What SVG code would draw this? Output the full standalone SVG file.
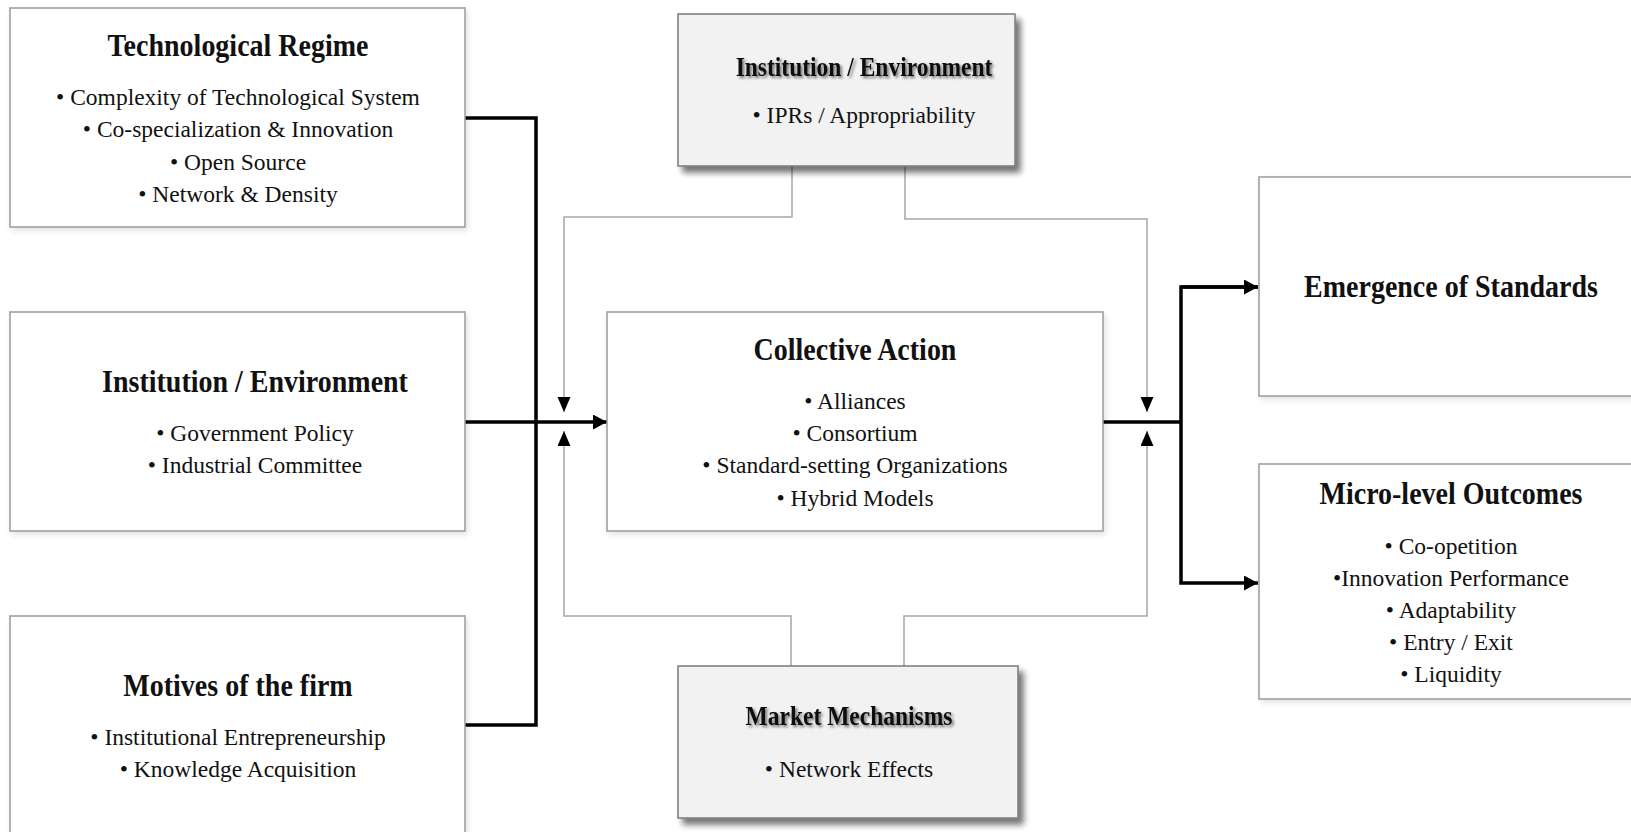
<svg xmlns="http://www.w3.org/2000/svg" width="1631" height="832" viewBox="0 0 1631 832">
  <style>
    .box { fill: #ffffff; stroke: #9a9a9a; stroke-width: 1.5; }
    .gbox { fill: #f2f2f2; stroke: #7a7a7a; stroke-width: 1.5; }
    .title { font-family: "Liberation Serif", "Times New Roman", serif; font-weight: bold; font-size: 28px; fill: #111; text-anchor: middle; }
    .stitle { font-family: "Liberation Serif", "Times New Roman", serif; font-weight: bold; font-size: 23.5px; fill: #111; text-anchor: middle; }
    .item { font-family: "Liberation Serif", "Times New Roman", serif; font-size: 23.5px; fill: #111; text-anchor: middle; }
    .thick { fill: none; stroke: #000; stroke-width: 3.5; stroke-linejoin: miter; }
    .thin { fill: none; stroke: #a6a6a6; stroke-width: 1.5; }
  </style>
  <defs>
    <filter id="softShadow" x="-5%" y="-5%" width="112%" height="115%">
      <feGaussianBlur in="SourceAlpha" stdDeviation="3"/>
      <feOffset dx="2" dy="3" result="b"/>
      <feComponentTransfer><feFuncA type="linear" slope="0.12"/></feComponentTransfer>
      <feMerge><feMergeNode/><feMergeNode in="SourceGraphic"/></feMerge>
    </filter>
    <filter id="boxShadow" x="-5%" y="-5%" width="115%" height="120%">
      <feGaussianBlur in="SourceAlpha" stdDeviation="3"/>
      <feOffset dx="5" dy="6" result="b"/>
      <feComponentTransfer><feFuncA type="linear" slope="0.55"/></feComponentTransfer>
      <feMerge><feMergeNode/><feMergeNode in="SourceGraphic"/></feMerge>
    </filter>
    <filter id="textShadow" x="-5%" y="-20%" width="110%" height="150%">
      <feGaussianBlur in="SourceAlpha" stdDeviation="1.4"/>
      <feOffset dx="1.5" dy="2" result="b"/>
      <feComponentTransfer><feFuncA type="linear" slope="0.55"/></feComponentTransfer>
      <feMerge><feMergeNode/><feMergeNode in="SourceGraphic"/></feMerge>
    </filter>
    <marker id="headBold" markerUnits="userSpaceOnUse" markerWidth="16" markerHeight="16" refX="14" refY="7.5" orient="auto">
      <path d="M0,0 L14,7.5 L0,15 z" fill="#000"/>
    </marker>
    <marker id="headThin" markerUnits="userSpaceOnUse" markerWidth="16" markerHeight="16" refX="15" refY="6.5" orient="auto">
      <path d="M0,0 L15,6.5 L0,13 z" fill="#000"/>
    </marker>
  </defs>

  <!-- connectors -->
  <g id="connectors">
    <!-- left bus: drivers into collective action -->
    <polyline class="thick" points="465,118 536,118 536,725 465,725"/>
    <line class="thick" x1="465" y1="422" x2="607" y2="422" marker-end="url(#headBold)"/>
    <!-- right bus: collective action to outcomes -->
    <line class="thick" x1="1103" y1="422" x2="1181" y2="422"/>
    <polyline class="thick" points="1258,287 1181,287 1181,583 1258,583" marker-end="url(#headBold)"/>
    <line class="thick" x1="1181" y1="287" x2="1258" y2="287" marker-end="url(#headBold)"/>
    <!-- institutional feedback from above -->
    <polyline class="thin" points="792,166 792,217 564,217 564,412" marker-end="url(#headThin)"/>
    <polyline class="thin" points="905,166 905,219 1147,219 1147,412" marker-end="url(#headThin)"/>
    <!-- market feedback from below -->
    <polyline class="thin" points="791,666 791,616 564,616 564,431" marker-end="url(#headThin)"/>
    <polyline class="thin" points="904,666 904,616 1147,616 1147,431" marker-end="url(#headThin)"/>
  </g>

  <g id="tech-regime">
    <rect class="box" x="10" y="8" width="455" height="219" filter="url(#softShadow)"/>
    <text class="title" transform="translate(238,56) scale(1,1.12)">Technological Regime</text>
    <text class="item" x="238" y="105">• Complexity of Technological System</text>
    <text class="item" x="238" y="137">• Co-specialization &amp; Innovation</text>
    <text class="item" x="238" y="170">• Open Source</text>
    <text class="item" x="238" y="202">• Network &amp; Density</text>
  </g>

  <g id="institution-left">
    <rect class="box" x="10" y="312" width="455" height="219" filter="url(#softShadow)"/>
    <text class="title" transform="translate(255,392) scale(1,1.12)">Institution / Environment</text>
    <text class="item" x="255" y="441">• Government Policy</text>
    <text class="item" x="255" y="473">• Industrial Committee</text>
  </g>

  <g id="motives">
    <rect class="box" x="10" y="616" width="455" height="230" filter="url(#softShadow)"/>
    <text class="title" transform="translate(238,696) scale(1,1.12)">Motives of the firm</text>
    <text class="item" x="238" y="745">• Institutional Entrepreneurship</text>
    <text class="item" x="238" y="777">• Knowledge Acquisition</text>
  </g>

  <g id="institution-top">
    <rect class="gbox" x="678" y="14" width="337" height="152" filter="url(#boxShadow)"/>
    <text class="stitle" transform="translate(864,76) scale(1,1.12)" filter="url(#textShadow)">Institution / Environment</text>
    <text class="item" x="864" y="123">• IPRs / Appropriability</text>
  </g>

  <g id="collective-action">
    <rect class="box" x="607" y="312" width="496" height="219" filter="url(#softShadow)"/>
    <text class="title" transform="translate(855,360) scale(1,1.12)">Collective Action</text>
    <text class="item" x="855" y="409">• Alliances</text>
    <text class="item" x="855" y="441">• Consortium</text>
    <text class="item" x="855" y="473">• Standard-setting Organizations</text>
    <text class="item" x="855" y="506">• Hybrid Models</text>
  </g>

  <g id="market-mechanisms">
    <rect class="gbox" x="678" y="666" width="340" height="152" filter="url(#boxShadow)"/>
    <text class="stitle" transform="translate(849,725) scale(1,1.12)" filter="url(#textShadow)">Market Mechanisms</text>
    <text class="item" x="849" y="777">• Network Effects</text>
  </g>

  <g id="emergence">
    <rect class="box" x="1259" y="177" width="390" height="219" filter="url(#softShadow)"/>
    <text class="title" transform="translate(1451,297) scale(1,1.12)">Emergence of Standards</text>
  </g>

  <g id="micro-outcomes">
    <rect class="box" x="1259" y="464" width="390" height="235" filter="url(#softShadow)"/>
    <text class="title" transform="translate(1451,504) scale(1,1.12)">Micro-level Outcomes</text>
    <text class="item" x="1451" y="554">• Co-opetition</text>
    <text class="item" x="1451" y="586">•Innovation Performance</text>
    <text class="item" x="1451" y="618">• Adaptability</text>
    <text class="item" x="1451" y="650">• Entry / Exit</text>
    <text class="item" x="1451" y="682">• Liquidity</text>
  </g>
</svg>
